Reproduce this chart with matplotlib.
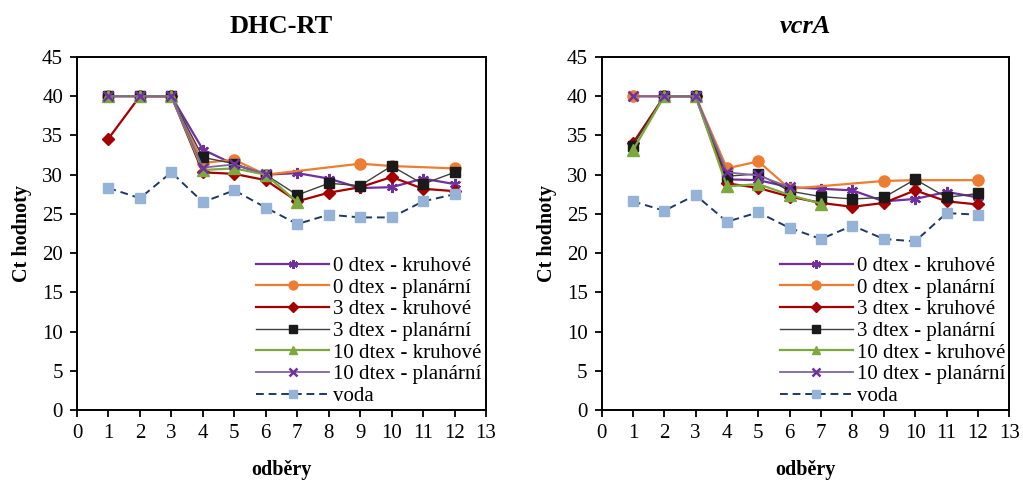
import matplotlib
matplotlib.use("Agg")
import matplotlib.pyplot as plt

plt.rcParams['font.family'] = ['Liberation Serif', 'DejaVu Serif']

odbery = list(range(1, 13))
series_labels = ["0 dtex - kruhové", "0 dtex - planární", "3 dtex - kruhové",
                 "3 dtex - planární", "10 dtex - kruhové", "10 dtex - planární", "voda"]

# DHC-RT
dhc_k0 = [40, 40, 40, 33.2, 31.3, 30.0, 30.2, 29.5, 28.3, 28.4, 29.5, 28.8]
dhc_p0 = [40, 40, 40, 31.5, 31.9, 30.0, None, None, 31.4, 31.1, None, 30.8]
dhc_k3 = [34.6, 40, 40, 30.3, 30.1, 29.3, 26.6, 27.7, 28.4, 29.7, 28.2, 27.9]
dhc_p3 = [40, 40, 40, 32.2, 31.4, 30.0, 27.4, 28.9, 28.6, 31.1, 28.8, 30.3]
dhc_k10 = [40, 40, 40, 30.6, 30.8, 30.0, 26.5, None, None, None, None, None]
dhc_p10 = [40, 40, 40, 30.9, 31.3, 30.1, None, None, None, None, None, None]
dhc_voda = [28.3, 27.0, 30.3, 26.5, 28.0, 25.8, 23.7, 24.9, 24.55, 24.55, 26.6, 27.5]

# vcrA
vcr_k0 = [40, 40, 40, 29.4, 29.3, 28.4, 28.2, 28.0, 26.6, 26.9, 27.8, 27.1]
vcr_p0 = [40, 40, 40, 30.8, 31.7, 28.2, None, None, 29.2, 29.3, None, 29.3]
vcr_k3 = [34.0, 40, 40, 28.9, 28.3, 27.2, 26.4, 25.9, 26.4, 28.0, 26.6, 26.2]
vcr_p3 = [33.7, 40, 40, 29.8, 30.1, 27.9, 27.2, 26.9, 27.1, 29.4, 27.1, 27.6]
vcr_k10 = [33.1, 40, 40, 28.5, 28.8, 27.4, 26.3, None, None, None, None, None]
vcr_p10 = [40, 40, 40, 30.3, 29.9, 28.4, None, None, None, None, None, None]
vcr_voda = [26.6, 25.4, 27.4, 24.0, 25.2, 23.2, 21.8, 23.5, 21.8, 21.5, 25.1, 24.9]

styles = [
    dict(color='#7030A0', lw=1.6, marker=(6, 2, 0), ms=8, mec='#7030A0', mew=1.6, mfc='#7030A0'),
    dict(color='#ED7D31', lw=1.6, marker='o', ms=8, mec='#ED7D31', mfc='#ED7D31'),
    dict(color='#A50000', lw=1.6, marker='D', ms=6.5, mec='#A50000', mfc='#A50000'),
    dict(color='#404040', lw=1.0, marker='s', ms=7.5, mec='#1A1A1A', mfc='#1A1A1A'),
    dict(color='#7DA83E', lw=1.6, marker='^', ms=8, mec='#7DA83E', mfc='#7DA83E'),
    dict(color='#8064A2', lw=1.3, marker='x', ms=6.5, mec='#7030A0', mew=1.8),
    dict(color='#1F3864', lw=1.4, ls=(0, (4, 2.5)), marker='s', ms=7.5, mec='#95B3D7', mfc='#95B3D7'),
]

fig = plt.figure(figsize=(10.23, 4.84), dpi=100)
ax1 = fig.add_axes([77 / 1023, 1 - 410 / 484, (486 - 77) / 1023, (410 - 57) / 484])
ax2 = fig.add_axes([601.5 / 1023, 1 - 410 / 484, (1009.3 - 601.5) / 1023, (410 - 57) / 484])

panels = [
    (ax1, "DHC-RT", 'normal', [dhc_k0, dhc_p0, dhc_k3, dhc_p3, dhc_k10, dhc_p10, dhc_voda]),
    (ax2, "vcrA", 'italic', [vcr_k0, vcr_p0, vcr_k3, vcr_p3, vcr_k10, vcr_p10, vcr_voda]),
]

for ax, title, fstyle, data in panels:
    for vals, lab, st in zip(data, series_labels, styles):
        xs = [x for x, v in zip(odbery, vals) if v is not None]
        ys = [v for v in vals if v is not None]
        ax.plot(xs, ys, label=lab, **st)
    ax.set_xlim(0, 13)
    ax.set_ylim(0, 45)
    ax.set_xticks(range(0, 14))
    ax.set_yticks(range(0, 46, 5))
    ax.tick_params(direction='out', length=5, width=1.3, labelsize=15, colors='black', pad=5)
    for s in ax.spines.values():
        s.set_linewidth(1.4)
        s.set_color('black')
    ax.set_title(title, fontsize=19, fontweight='bold', fontstyle=fstyle, pad=17)
    ax.set_xlabel("odběry", fontsize=14.5, fontweight='bold', labelpad=12)
    ax.set_ylabel("Ct hodnoty", fontsize=14.5, fontweight='bold', labelpad=7)
    ax.legend(loc='lower right', bbox_to_anchor=(1.0, 0.0), frameon=False, fontsize=15,
              handlelength=3.5, handletextpad=0.2, labelspacing=0.1, borderpad=0.1,
              borderaxespad=0.1, markerscale=0.8)

fig.savefig("out.png", dpi=100)
